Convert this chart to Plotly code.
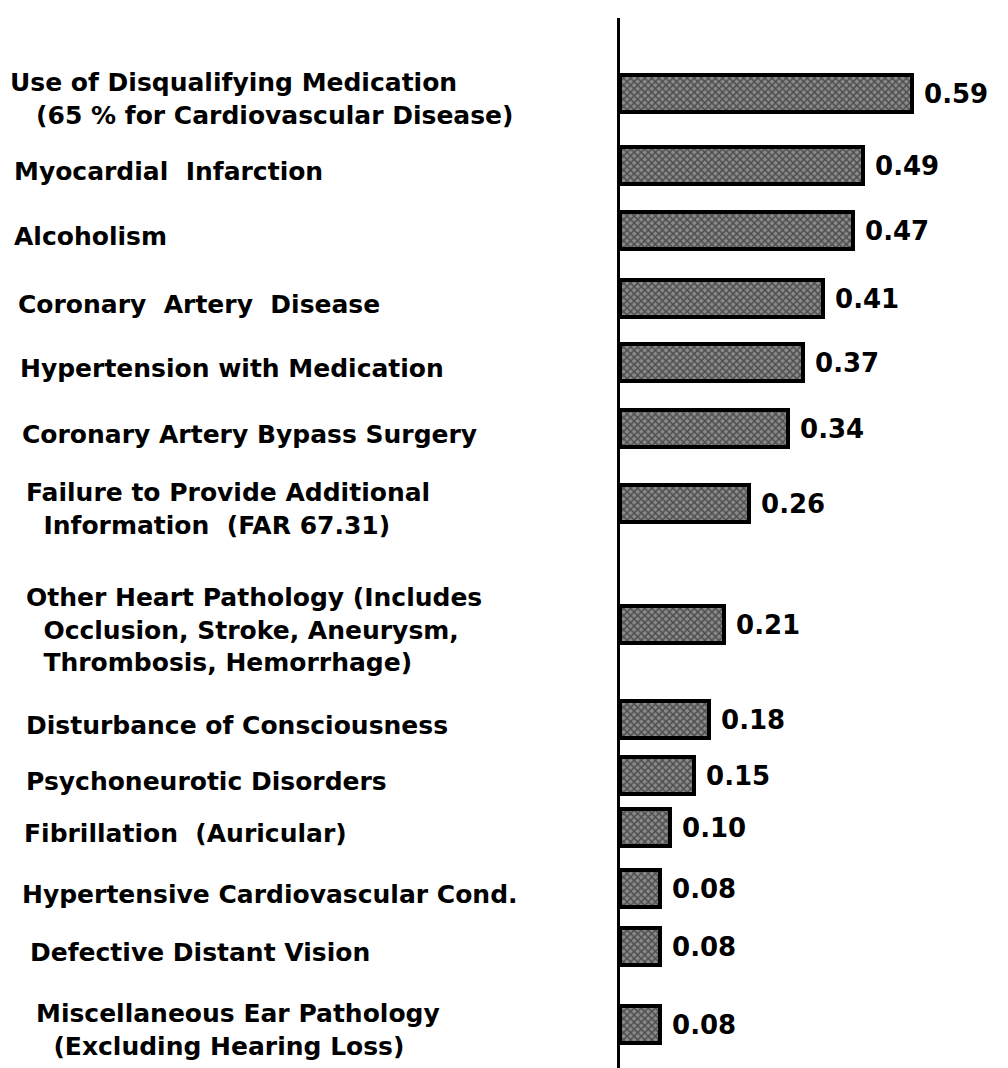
import plotly.graph_objects as go

NB = "\u00a0"

# ---- data ----
categories = [
    ["Use of Disqualifying Medication", NB*3 + "(65 % for Cardiovascular Disease)"],
    ["Myocardial  Infarction"],
    ["Alcoholism"],
    ["Coronary  Artery  Disease"],
    ["Hypertension with Medication"],
    ["Coronary Artery Bypass Surgery"],
    ["Failure to Provide Additional", NB*2 + "Information  (FAR 67.31)"],
    ["Other Heart Pathology (Includes", NB*2 + "Occlusion, Stroke, Aneurysm,", NB*2 + "Thrombosis, Hemorrhage)"],
    ["Disturbance of Consciousness"],
    ["Psychoneurotic Disorders"],
    ["Fibrillation  (Auricular)"],
    ["Hypertensive Cardiovascular Cond."],
    ["Defective Distant Vision"],
    ["Miscellaneous Ear Pathology", NB*2 + "(Excluding Hearing Loss)"],
]
values = [0.59, 0.49, 0.47, 0.41, 0.37, 0.34, 0.26, 0.21, 0.18, 0.15, 0.10, 0.08, 0.08, 0.08]
value_labels = ["0.59", "0.49", "0.47", "0.41", "0.37", "0.34", "0.26", "0.21",
                "0.18", "0.15", "0.10", "0.08", "0.08", "0.08"]

# ---- layout constants (row centres in pixel units of the reversed y axis) ----
row_pos = [85, 157, 222, 290, 354, 420, 495, 616, 711, 767, 819, 880, 938, 1016]
label_x = [0, 4, 4, 8, 10, 12, 16, 16, 16, 16, 14, 12, 20, 26]
W, H = 1008, 1068
AXIS_X = 612
FONT = "DejaVu Sans"

fig = go.Figure()
fig.add_trace(go.Bar(
    x=values, y=row_pos, orientation="h", width=37,
    marker=dict(color="white",
                line=dict(color="black", width=4),
                pattern=dict(shape="x", size=5, solidity=0.5,
                             fgcolor="#111111", bgcolor="#8a8a8a")),
    text=[NB + v for v in value_labels], textposition="outside",
    textfont=dict(family=FONT, size=26, color="black", weight="bold"),
    cliponaxis=False, showlegend=False, hoverinfo="skip",
))

for lines, yp, lx in zip(categories, row_pos, label_x):
    fig.add_annotation(
        x=lx / W, xref="paper", y=yp + 6, yref="y",
        text="<br>".join(lines), showarrow=False,
        xanchor="left", yanchor="middle", align="left",
        font=dict(family=FONT, size=25, color="black", weight="bold"),
    )

fig.update_layout(
    width=W, height=H,
    margin=dict(l=0, r=0, t=0, b=0),
    paper_bgcolor="white", plot_bgcolor="white",
    xaxis=dict(domain=[AXIS_X / W, 1], range=[0, (W - AXIS_X) / 495],
               visible=False, fixedrange=True),
    yaxis=dict(domain=[0, 1 - 10 / H], range=[H, 10],
               showline=True, linecolor="black", linewidth=3,
               showgrid=False, zeroline=False, showticklabels=False,
               ticks="", fixedrange=True),
    bargap=0,
)

fig.write_html("out.html")
